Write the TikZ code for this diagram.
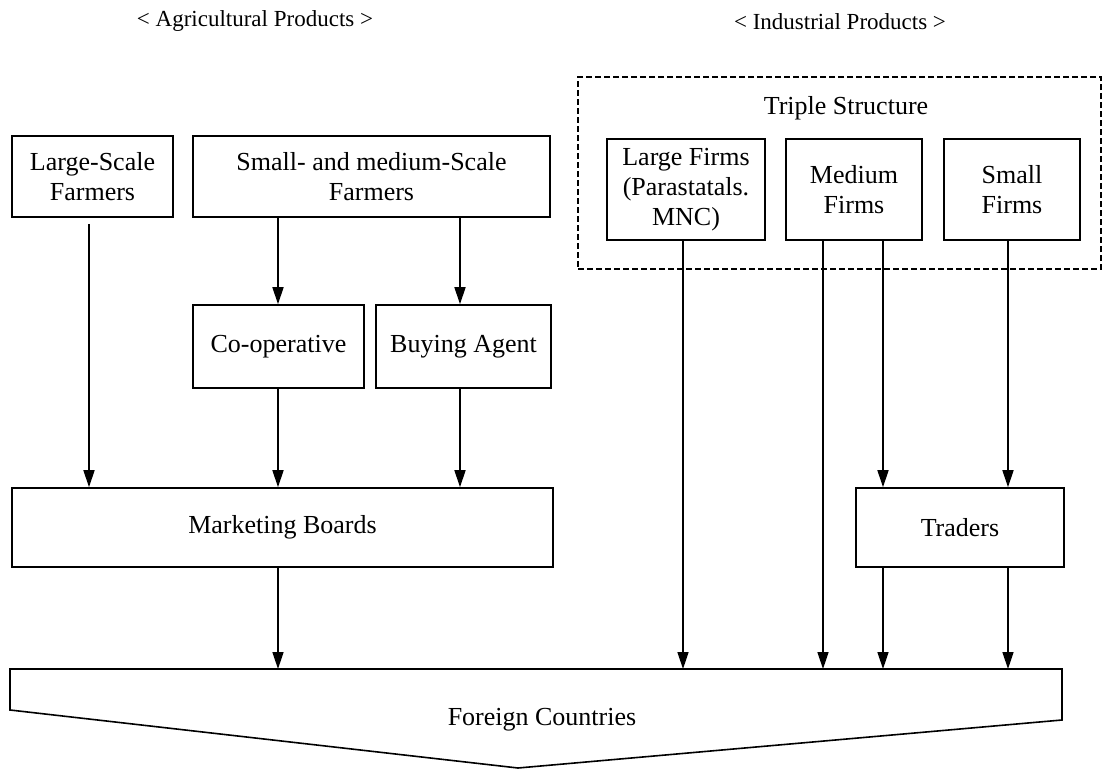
\documentclass[tikz,border=0pt]{standalone}
\usepackage{fontspec}
\setmainfont{Liberation Serif}
\usetikzlibrary{arrows.meta}
\begin{document}
\begin{tikzpicture}[x=1pt,y=-1pt,
  txt/.style={font=\fontsize{26}{30}\selectfont, align=center, inner sep=0pt},
  box/.style={txt, draw, line width=1.6pt},
  ttl/.style={font=\fontsize{23}{27}\selectfont, inner sep=0pt},
  ln/.style={line width=1.6pt},
  arr/.style={line width=1.6pt, -{Triangle[length=17pt,width=11pt]}}]
\useasboundingbox (0,0) rectangle (1104,771);
\fill[white] (0,0) rectangle (1104,771);

% titles
\node[ttl] (tagr) at (255,21) {< Agricultural Products >};
\node[ttl] (tind) at (840,22) {< Industrial Products >};

% agricultural side
\node[box, minimum width=161pt, minimum height=81pt] (ls) at (92.5,176.5) {Large-Scale\\Farmers};
\node[box, minimum width=357pt, minimum height=81pt] (sm) at (371.5,176.5) {Small- and medium-Scale\\Farmers};
\node[box, minimum width=171pt, minimum height=83pt] (coop) at (278.5,346.5) {Co-operative};
\node[box, minimum width=175pt, minimum height=83pt] (ba) at (463.5,346.5) {Buying Agent};
\node[box, minimum width=541pt, minimum height=79pt] (mb) at (282.5,527.5) {Marketing Boards};

% industrial side
\node[draw, dashed, dash pattern=on 6pt off 3pt, line width=1.1pt, minimum width=523pt, minimum height=192pt, inner sep=0pt] (tri) at (839.5,173) {};
\node[txt] (ts) at (846,108) {Triple Structure};
\node[box, minimum width=158pt, minimum height=101pt] (lf) at (686,189.5) {Large Firms\\(Parastatals.\\MNC)};
\node[box, minimum width=136pt, minimum height=101pt] (mf) at (854,189.5) {Medium\\Firms};
\node[box, minimum width=136pt, minimum height=101pt] (sf) at (1012,189.5) {Small\\Firms};
\node[box, minimum width=208pt, minimum height=79pt] (tr) at (960,527.5) {Traders};

% foreign countries
\draw[ln, line join=miter] (10,669) -- (1062,669) -- (1062,720) -- (518,768) -- (10,710) -- cycle;
\node[txt] (fc) at (542,720) {Foreign Countries};
\coordinate (fctop) at (0,669);

% connector columns
\coordinate (xa) at (89,0);
\coordinate (xb) at (278,0);
\coordinate (xc) at (460,0);
\coordinate (xd) at (683,0);
\coordinate (xe) at (823,0);
\coordinate (xf) at (883,0);
\coordinate (xg) at (1008,0);

\draw[arr, shorten <=6pt] (ls.south -| xa) -- (mb.north -| xa);
\draw[arr] (sm.south -| xb) -- (coop.north -| xb);
\draw[arr] (sm.south -| xc) -- (ba.north -| xc);
\draw[arr] (coop.south -| xb) -- (mb.north -| xb);
\draw[arr] (ba.south -| xc) -- (mb.north -| xc);
\draw[arr] (mb.south -| xb) -- (fctop -| xb);

\draw[arr] (lf.south -| xd) -- (fctop -| xd);
\draw[arr] (mf.south -| xe) -- (fctop -| xe);
\draw[arr] (mf.south -| xf) -- (tr.north -| xf);
\draw[arr] (sf.south -| xg) -- (tr.north -| xg);
\draw[arr] (tr.south -| xf) -- (fctop -| xf);
\draw[arr] (tr.south -| xg) -- (fctop -| xg);
\end{tikzpicture}
\end{document}
